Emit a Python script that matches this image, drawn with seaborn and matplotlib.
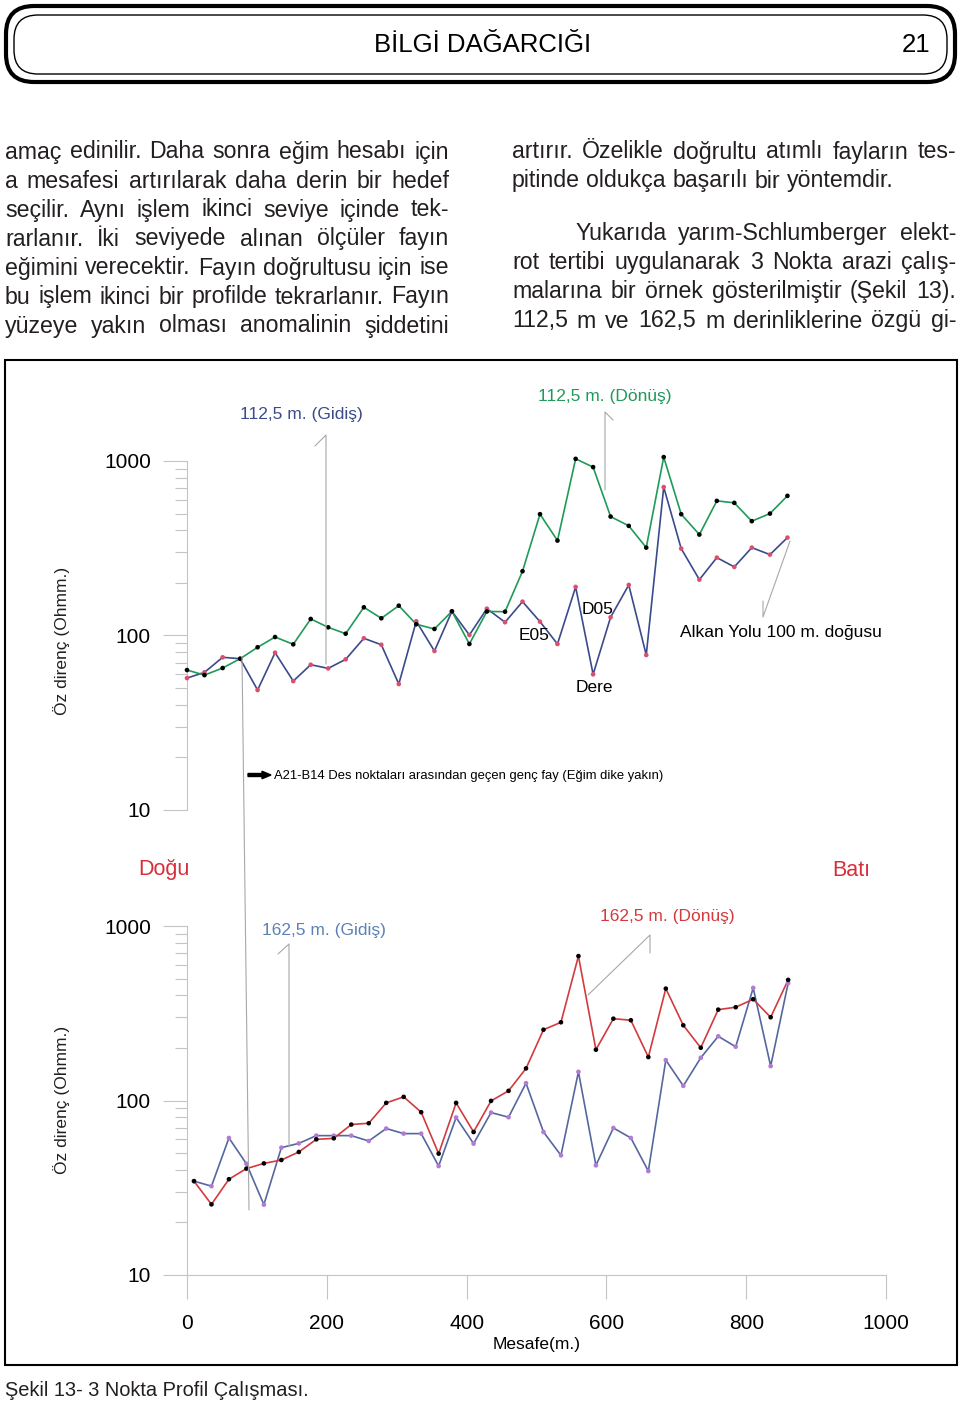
import numpy as np
import pandas as pd
import seaborn as sns
from matplotlib import pyplot as plt
from matplotlib.patches import FancyBboxPatch, Rectangle, FancyArrow
from matplotlib.lines import Line2D
from matplotlib.ticker import FixedLocator, FixedFormatter, LogLocator, NullFormatter

sns.set_theme(style="white")
plt.rcParams['font.family'] = ['Liberation Sans', 'DejaVu Sans']

# --- data (Mesafe in m, Öz direnç in Ohmm) ---
mesafe_112 = [0, 25, 51, 76, 101, 126, 152, 177, 202, 227, 253, 278, 303, 328, 354, 379, 404, 429,
              455, 480, 505, 530, 556, 581, 606, 632, 657, 682, 707, 733, 758, 783, 808, 834, 859]
gidis_112 = [57.0, 61.5, 75.0, 73.6, 48.7, 79.7, 54.8, 68.0, 64.8, 73.0, 96.4, 88.5, 52.7, 120.6,
             81.5, 137.6, 100.7, 142.5, 119.1, 156.3, 120.0, 89.4, 189.8, 59.9, 127.2, 194.9, 77.3,
             708.6, 314.8, 209.0, 279.5, 247.2, 318.9, 290.8, 363.9]
donus_112 = [63.4, 59.3, 65.1, 73.6, 85.6, 98.0, 89.0, 124.4, 111.4, 102.4, 145.1, 125.5, 148.2,
             116.0, 109.0, 137.6, 89.4, 137.3, 136.9, 233.5, 495.8, 349.9, 1029.0, 922.6, 480.4,
             424.9, 318.9, 1052.9, 495.8, 378.8, 591.0, 575.6, 452.1, 499.7, 631.4]

mesafe_162 = [10, 35, 60, 85, 110, 135, 160, 185, 210, 235, 260, 285, 310, 335, 360, 385, 410, 435,
              460, 485, 510, 535, 560, 585, 610, 635, 660, 685, 710, 735, 760, 785, 810, 835, 860]
gidis_162 = [34.5, 32.3, 61.0, 43.4, 25.3, 53.7, 56.8, 62.9, 62.9, 62.9, 58.6, 69.1, 64.6, 64.6,
             42.1, 79.9, 56.6, 85.3, 80.2, 125.7, 66.0, 48.5, 146.0, 42.5, 69.6, 61.0, 39.4, 170.4,
             121.3, 175.7, 233.3, 203.2, 441.9, 157.4, 470.3]
donus_162 = [34.5, 25.4, 35.4, 40.7, 43.6, 45.6, 50.7, 59.9, 60.7, 72.8, 74.1, 96.9, 104.9, 85.7,
             49.6, 96.9, 66.0, 99.5, 113.6, 152.7, 254.5, 280.7, 672.4, 195.4, 294.4, 288.3, 177.4,
             437.8, 269.8, 200.6, 331.7, 342.4, 380.6, 299.9, 491.2]

x_ticks = [0, 200, 400, 600, 800, 1000]
y_ticks = [10, 100, 1000]

left_col = ["amaç edinilir. Daha sonra eğim hesabı için",
            "a mesafesi artırılarak daha derin bir hedef",
            "seçilir. Aynı işlem ikinci seviye içinde tek-",
            "rarlanır. İki seviyede alınan ölçüler fayın",
            "eğimini verecektir. Fayın doğrultusu için ise",
            "bu işlem ikinci bir profilde tekrarlanır. Fayın",
            "yüzeye yakın olması anomalinin şiddetini"]
right_col = ["artırır. Özelikle doğrultu atımlı fayların tes-",
             "pitinde oldukça başarılı bir yöntemdir.",
             "Yukarıda yarım-Schlumberger elekt-",
             "rot tertibi uygulanarak 3 Nokta arazi çalış-",
             "malarına bir örnek gösterilmiştir (Şekil 13).",
             "112,5 m ve 162,5 m  derinliklerine özgü gi-"]

W, H = 960, 1402
INK = '#231f20'
GREY = '#c4c4c4'


def P(x, y):
    return x / W, 1 - y / H


fig = plt.figure(figsize=(W / 100, H / 100), dpi=100)
rend = fig.canvas.get_renderer()

# header
for (x0, y0, x1, y1, r, lw) in [(6, 6, 955, 82, 0.28, 3.0), (14, 15, 947, 74, 0.24, 1.0)]:
    fig.add_artist(FancyBboxPatch((x0 / 100, (H - y1) / 100), (x1 - x0) / 100, (y1 - y0) / 100,
                                  boxstyle=f"round,pad=0,rounding_size={r}", fc='none', ec='black',
                                  lw=lw, transform=fig.dpi_scale_trans))
fig.text(*P(483, 45), "BİLGİ DAĞARCIĞI", ha='center', va='center', fontsize=18.5, color='black')
fig.text(*P(916, 45), "21", ha='center', va='center', fontsize=18.5, color='black')

# body text, justified
BODY = 16.7


def put_line(line, x0, x1, y, justify=True):
    words = line.split()
    arts = [fig.text(0, 0, w, fontsize=BODY, color=INK, ha='left', va='baseline') for w in words]
    widths = [a.get_window_extent(rend).width for a in arts]
    gap = (x1 - x0 - sum(widths)) / (len(words) - 1) if justify else 0.278 * BODY * 100 / 72
    x = x0
    for a, w in zip(arts, widths):
        a.set_position(P(x, y))
        x += w + gap


for i, line in enumerate(left_col):
    put_line(line, 5, 449, 158.5 + 29 * i)
right_y = [158.5, 187.5, 240, 269, 298, 327.5]
for i, line in enumerate(right_col):
    put_line(line, 575 if i == 2 else 512, 956, right_y[i], justify=(i != 1))

# chart frame
fig.add_artist(Rectangle((5 / W, 1 - 1365 / H), 952 / W, 1005 / H, fill=False, ec='black', lw=1.5,
                         transform=fig.transFigure))

top = pd.DataFrame({'mesafe': mesafe_112 * 2, 'ohm': gidis_112 + donus_112,
                    'seri': ['112,5 m. (Gidiş)'] * len(gidis_112) + ['112,5 m. (Dönüş)'] * len(donus_112)})
bottom = pd.DataFrame({'mesafe': mesafe_162 * 2, 'ohm': gidis_162 + donus_162,
                       'seri': ['162,5 m. (Gidiş)'] * len(gidis_162) + ['162,5 m. (Dönüş)'] * len(donus_162)})

line_col = {'112,5 m. (Gidiş)': '#3b4a8c', '112,5 m. (Dönüş)': '#1f9a58',
            '162,5 m. (Gidiş)': '#56679e', '162,5 m. (Dönüş)': '#d33a3e'}
dot_col = {'112,5 m. (Gidiş)': '#d9506e', '112,5 m. (Dönüş)': '#000000',
           '162,5 m. (Gidiş)': '#b27ad2', '162,5 m. (Dönüş)': '#000000'}

ax1 = fig.add_axes([187 / W, 1 - 810 / H, 699 / W, 349 / H])
ax2 = fig.add_axes([187 / W, 1 - 1275 / H, 699 / W, 349 / H])

for ax, df in [(ax1, top), (ax2, bottom)]:
    ax.patch.set_alpha(0)
    sns.lineplot(data=df, x='mesafe', y='ohm', hue='seri', palette=line_col, estimator=None,
                 sort=False, legend=False, linewidth=1.2, ax=ax)
    sns.scatterplot(data=df, x='mesafe', y='ohm', hue='seri', palette=dot_col, s=11,
                    linewidth=0, legend=False, zorder=3, ax=ax)
    for art in ax.lines + ax.collections:
        art.set_clip_on(False)
    ax.set_yscale('log')
    ax.set_ylim(10, 1000)
    ax.set_xlim(0, 1000)
    ax.set_xlabel('')
    ax.set_ylabel('')
    ax.yaxis.set_major_locator(FixedLocator(y_ticks))
    ax.yaxis.set_major_formatter(FixedFormatter([str(v) for v in y_ticks]))
    ax.yaxis.set_minor_locator(LogLocator(base=10, subs=np.arange(2, 10)))
    ax.yaxis.set_minor_formatter(NullFormatter())
    ax.tick_params(axis='y', which='major', length=17, width=0.8, color=GREY, labelsize=15,
                   pad=9, labelcolor='black', left=True)
    ax.tick_params(axis='y', which='minor', length=9, width=0.8, color=GREY, left=True)
    for s in ['top', 'right']:
        ax.spines[s].set_visible(False)
    ax.spines['left'].set_color(GREY)
    ax.spines['left'].set_linewidth(0.8)
    ax.grid(False)

ax1.spines['bottom'].set_visible(False)
ax1.set_xticks([])
ax2.spines['bottom'].set_color(GREY)
ax2.spines['bottom'].set_linewidth(0.8)
ax2.set_xticks(x_ticks)
ax2.set_xticklabels([str(v) for v in x_ticks])
ax2.tick_params(axis='x', length=17, width=0.8, color=GREY, labelsize=15, pad=11,
                labelcolor='black', bottom=True)

# labels and notes
fig.text(*P(537, 1344), "Mesafe(m.)", ha='center', va='center', fontsize=12.5, color='black')
for yc in [641, 1100]:
    fig.text(*P(62, yc), "Öz direnç (Ohmm.)", ha='center', va='center', rotation=90,
             fontsize=12.5, color=INK)
fig.text(*P(301, 415), "112,5 m. (Gidiş)", ha='center', va='center', fontsize=12.5, color='#3b4a8c')
fig.text(*P(605, 397), "112,5 m. (Dönüş)", ha='center', va='center', fontsize=12.5, color='#1f9a58')
fig.text(*P(324, 930), "162,5 m. (Gidiş)", ha='center', va='center', fontsize=12.5, color='#5b82b4')
fig.text(*P(667, 917), "162,5 m. (Dönüş)", ha='center', va='center', fontsize=12.5, color='#d33a3e')
fig.text(*P(164, 870), "Doğu", ha='center', va='center', fontsize=15.5, color='#d62f3c')
fig.text(*P(851, 870), "Batı", ha='center', va='center', fontsize=15.5, color='#d62f3c')
fig.text(*P(534, 636), "E05", ha='center', va='center', fontsize=12.5, color='black')
fig.text(*P(598, 609), "D05", ha='center', va='center', fontsize=12.5, color='black')
fig.text(*P(594, 688), "Dere", ha='center', va='center', fontsize=12.5, color='black')
fig.text(*P(680, 633), "Alkan Yolu 100 m. doğusu", ha='left', va='center', fontsize=12.5, color='black')
fig.text(*P(274, 776), "A21-B14 Des noktaları arasından geçen genç fay (Eğim dike yakın)",
         ha='left', va='center', fontsize=9.4, color='black')
fig.add_artist(FancyArrow(2.48, (H - 775) / 100, 0.23, 0, width=0.03, head_width=0.075,
                          head_length=0.09, length_includes_head=True, color='black',
                          transform=fig.dpi_scale_trans))

leaders = [[(315, 446), (326, 435), (326, 664)],
           [(613, 420), (605, 412), (605, 490)],
           [(790, 541), (763, 617), (763, 601)],
           [(278, 954), (289, 944), (289, 1147)],
           [(588, 995), (650, 935), (650, 953)],
           [(242, 657), (249, 1210)]]
for pts in leaders:
    xs = [p[0] / W for p in pts]
    ys = [1 - p[1] / H for p in pts]
    fig.add_artist(Line2D(xs, ys, color='#a8a8a8', lw=0.8, transform=fig.transFigure))

fig.text(*P(5, 1390), "Şekil 13- 3 Nokta Profil Çalışması.", ha='left', va='center',
         fontsize=14.4, color=INK)

plt.savefig('out.png', dpi=100)
